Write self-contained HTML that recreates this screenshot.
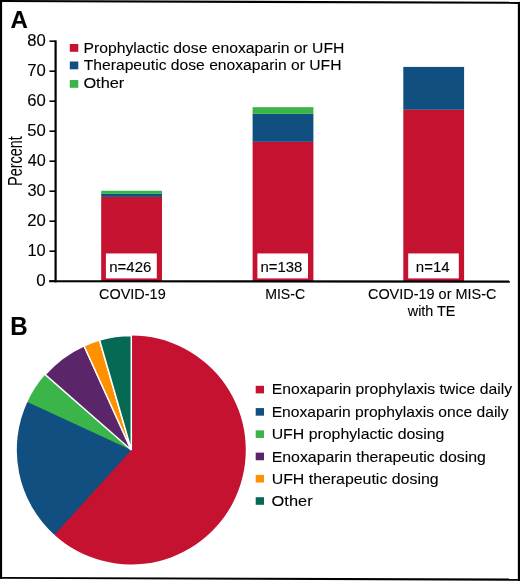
<!DOCTYPE html>
<html><head><meta charset="utf-8"><style>
html,body{margin:0;padding:0;background:#fff;}
svg{display:block;will-change:transform;}
text{font-family:"Liberation Sans",sans-serif;fill:#000;stroke:#000;stroke-width:0.1px;}
</style></head><body>
<svg width="520" height="581" viewBox="0 0 520 581">
<rect width="520" height="581" fill="#fff"/>
<circle cx="131.3" cy="450.0" r="113.5" fill="#114f80"/>
<path d="M131.30,450.00 L131.30,335.50 A114.5,114.5 0 1 1 54.24,534.69 Z" fill="#c41230"/>
<path d="M131.30,450.00 L54.24,534.69 A114.5,114.5 0 0 1 27.36,401.97 Z" fill="#114f80"/>
<path d="M131.30,450.00 L27.36,401.97 A114.5,114.5 0 0 1 45.15,374.58 Z" fill="#3bb44a"/>
<path d="M131.30,450.00 L45.15,374.58 A114.5,114.5 0 0 1 84.00,345.73 Z" fill="#5a2569" stroke="#fff" stroke-width="1.5" stroke-linejoin="miter"/>
<path d="M131.30,450.00 L84.00,345.73 A114.5,114.5 0 0 1 99.55,339.99 Z" fill="#ff9100" stroke="#fff" stroke-width="1.5" stroke-linejoin="miter"/>
<path d="M131.30,450.00 L99.55,339.99 A114.5,114.5 0 0 1 131.30,335.50 Z" fill="#066953" stroke="#fff" stroke-width="1.5" stroke-linejoin="miter"/>
<rect x="0" y="0" width="2.1" height="578.8" fill="#000"/>
<rect x="517.85" y="1.9" width="2.15" height="580" fill="#000"/>
<polygon points="0,0 520,1.75 520,3.9 0,2.0" fill="#000"/>
<polygon points="0,576.9 520,578.6 520,580.7 0,578.8" fill="#000"/>
<rect x="101.2" y="196.90" width="60.80" height="84.30" fill="#c41230"/>
<rect x="101.2" y="193.90" width="60.80" height="3.00" fill="#114f80"/>
<rect x="101.2" y="190.75" width="60.80" height="3.15" fill="#3bb44a"/>
<rect x="252.6" y="141.85" width="60.80" height="139.35" fill="#c41230"/>
<rect x="252.6" y="113.86" width="60.80" height="27.99" fill="#114f80"/>
<rect x="252.6" y="107.17" width="60.80" height="6.69" fill="#3bb44a"/>
<rect x="403.3" y="109.78" width="60.80" height="171.42" fill="#c41230"/>
<rect x="403.3" y="66.91" width="60.80" height="42.87" fill="#114f80"/>
<rect x="105.90" y="253.45" width="50.90" height="24.95" fill="#fff"/>
<rect x="257.40" y="253.45" width="50.60" height="24.95" fill="#fff"/>
<rect x="408.20" y="253.45" width="50.60" height="24.95" fill="#fff"/>
<rect x="54.5" y="40.4" width="2.2" height="242" fill="#000"/>
<polygon points="49.2,280.15 509.8,280.6 509.8,282.75 49.2,282.35" fill="#000"/>
<rect x="49.5" y="280.40" width="6" height="1.6" fill="#000"/>
<rect x="49.5" y="250.40" width="6" height="1.6" fill="#000"/>
<rect x="49.5" y="220.40" width="6" height="1.6" fill="#000"/>
<rect x="49.5" y="190.40" width="6" height="1.6" fill="#000"/>
<rect x="49.5" y="160.40" width="6" height="1.6" fill="#000"/>
<rect x="49.5" y="130.40" width="6" height="1.6" fill="#000"/>
<rect x="49.5" y="100.40" width="6" height="1.6" fill="#000"/>
<rect x="49.5" y="70.40" width="6" height="1.6" fill="#000"/>
<rect x="49.5" y="40.40" width="6" height="1.6" fill="#000"/>
<rect x="69.8" y="44.0" width="8.5" height="7.8" fill="#c41230"/>
<rect x="69.8" y="61.5" width="8.5" height="7.8" fill="#114f80"/>
<rect x="69.8" y="80.0" width="8.5" height="7.8" fill="#3bb44a"/>
<rect x="255.7" y="385.80" width="8.3" height="7.6" fill="#c41230"/>
<rect x="255.7" y="408.08" width="8.3" height="7.6" fill="#114f80"/>
<rect x="255.7" y="430.36" width="8.3" height="7.6" fill="#3bb44a"/>
<rect x="255.7" y="452.64" width="8.3" height="7.6" fill="#5a2569"/>
<rect x="255.7" y="474.92" width="8.3" height="7.6" fill="#ff9100"/>
<rect x="255.7" y="497.20" width="8.3" height="7.6" fill="#066953"/>
<text x="10.50" y="28.05" font-size="24.0" font-weight="bold" textLength="17.40" lengthAdjust="spacingAndGlyphs">A</text>
<text x="10.31" y="334.95" font-size="25.0" font-weight="bold" textLength="17.41" lengthAdjust="spacingAndGlyphs">B</text>
<text x="36.37" y="285.8" font-size="16" textLength="9.42" lengthAdjust="spacingAndGlyphs">0</text>
<text x="27.42" y="255.8" font-size="16" textLength="18.24" lengthAdjust="spacingAndGlyphs">10</text>
<text x="27.22" y="225.8" font-size="16" textLength="18.55" lengthAdjust="spacingAndGlyphs">20</text>
<text x="27.49" y="195.8" font-size="16" textLength="18.28" lengthAdjust="spacingAndGlyphs">30</text>
<text x="27.75" y="165.8" font-size="16" textLength="18.01" lengthAdjust="spacingAndGlyphs">40</text>
<text x="27.22" y="135.8" font-size="16" textLength="18.55" lengthAdjust="spacingAndGlyphs">50</text>
<text x="27.22" y="105.8" font-size="16" textLength="18.55" lengthAdjust="spacingAndGlyphs">60</text>
<text x="27.22" y="75.8" font-size="16" textLength="18.55" lengthAdjust="spacingAndGlyphs">70</text>
<text x="27.22" y="45.8" font-size="16" textLength="18.55" lengthAdjust="spacingAndGlyphs">80</text>
<text x="83.52" y="52.75" font-size="15.3" textLength="260.85" lengthAdjust="spacingAndGlyphs">Prophylactic dose enoxaparin or UFH</text>
<text x="83.74" y="70.15" font-size="15.3" textLength="257.77" lengthAdjust="spacingAndGlyphs">Therapeutic dose enoxaparin or UFH</text>
<text x="83.40" y="88.4" font-size="15.3" textLength="40.89" lengthAdjust="spacingAndGlyphs">Other</text>
<text x="109.24" y="271.8" font-size="14.2" textLength="42.10" lengthAdjust="spacingAndGlyphs">n=426</text>
<text x="260.45" y="271.8" font-size="14.2" textLength="41.89" lengthAdjust="spacingAndGlyphs">n=138</text>
<text x="415.84" y="271.8" font-size="14.2" textLength="33.86" lengthAdjust="spacingAndGlyphs">n=14</text>
<text x="99.04" y="299.3" font-size="14.2" textLength="66.66" lengthAdjust="spacingAndGlyphs">COVID-19</text>
<text x="265.15" y="299.2" font-size="14.2" textLength="40.05" lengthAdjust="spacingAndGlyphs">MIS-C</text>
<text x="367.94" y="299.25" font-size="14.2" textLength="128.52" lengthAdjust="spacingAndGlyphs">COVID-19 or MIS-C</text>
<text x="407.80" y="316.05" font-size="14.2" textLength="47.65" lengthAdjust="spacingAndGlyphs">with TE</text>
<text x="271.69" y="394.2" font-size="15.0" textLength="240.36" lengthAdjust="spacingAndGlyphs">Enoxaparin prophylaxis twice daily</text>
<text x="271.70" y="416.64" font-size="15.0" textLength="236.95" lengthAdjust="spacingAndGlyphs">Enoxaparin prophylaxis once daily</text>
<text x="271.68" y="439.08" font-size="15.0" textLength="172.68" lengthAdjust="spacingAndGlyphs">UFH prophylactic dosing</text>
<text x="271.68" y="461.52" font-size="15.0" textLength="214.26" lengthAdjust="spacingAndGlyphs">Enoxaparin therapeutic dosing</text>
<text x="271.68" y="483.96" font-size="15.0" textLength="166.92" lengthAdjust="spacingAndGlyphs">UFH therapeutic dosing</text>
<text x="271.58" y="506.4" font-size="15.0" textLength="41.01" lengthAdjust="spacingAndGlyphs">Other</text>
<text transform="translate(22.2,185.95) rotate(-90)" x="0" y="0" font-size="20.2" style="stroke:none" textLength="49.81" lengthAdjust="spacingAndGlyphs">Percent</text>
</svg>
</body></html>
